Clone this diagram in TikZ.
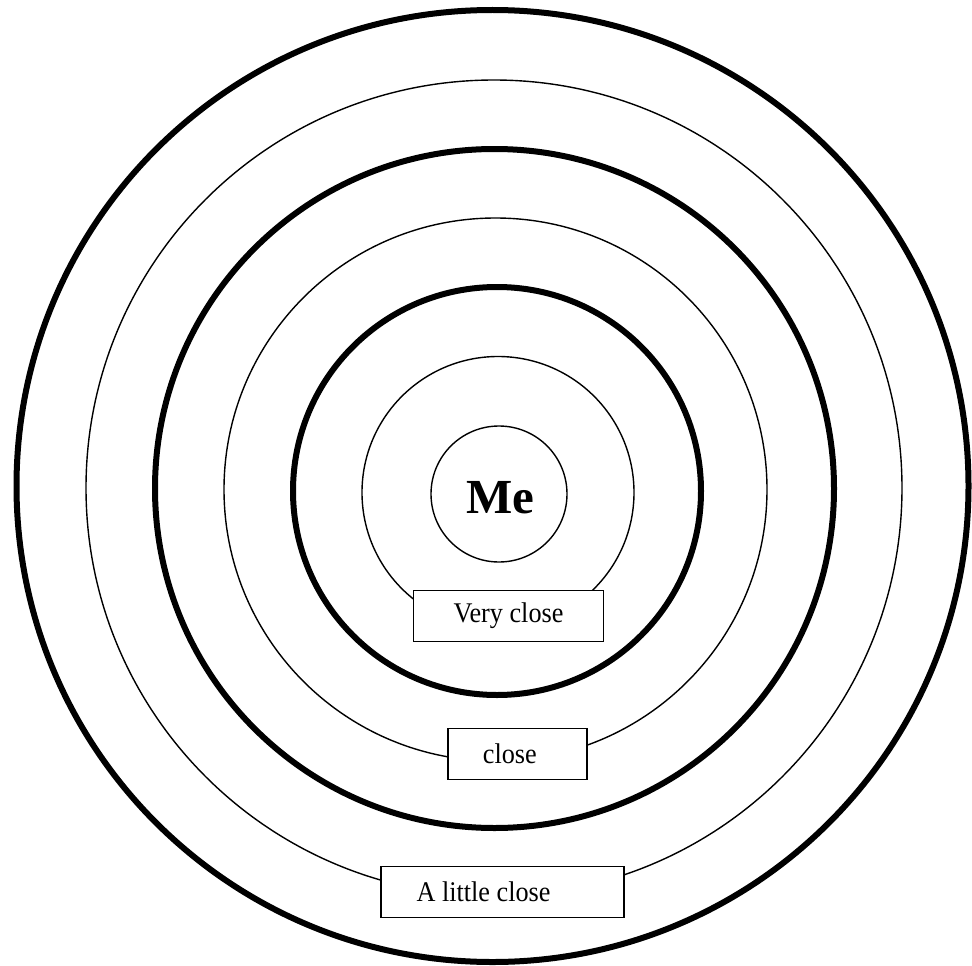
\documentclass[tikz,border=0pt]{standalone}
\usepackage{fontspec}
\setmainfont{Liberation Serif}
\begin{document}
\begin{tikzpicture}[x=1pt,y=-1pt,
  thinring/.style={circle, draw, line width=1.4pt, inner sep=0pt, outer sep=0pt},
  thickring/.style={circle, draw, line width=6pt, inner sep=0pt, outer sep=0pt},
  labelbox/.style={draw, fill=white, line width=1.4pt, inner sep=0pt, outer sep=0pt, minimum height=51pt,
    font=\fontsize{28.5}{30}\selectfont},
  metext/.style={font=\fontsize{49}{50}\selectfont\bfseries, inner sep=0pt}
]
\useasboundingbox (0,0) rectangle (972,966);
\node[thickring, minimum size=952pt] (r7) at (492.5,486) {};
\node[thinring, minimum size=816pt] (r6) at (494,488) {};
\node[thickring, minimum size=679pt] (r5) at (494.5,488.5) {};
\node[thinring, minimum size=543pt] (r4) at (495.5,489.5) {};
\node[thickring, minimum size=408pt] (r3) at (497,491) {};
\node[thinring, minimum size=272pt] (r2) at (498,492.5) {};
\node[thinring, minimum size=136pt] (r1) at (499,494) {};
\node[metext] (me) at ([xshift=1.5pt, yshift=-3.4pt]r1.center) {Me};
\node[labelbox, minimum width=190pt] (veryclose) at (508.5,616) {\scalebox{0.92}[1]{Very close}};
\node[labelbox, minimum width=139pt] (close) at (517.5,754) {\scalebox{0.92}[1]{close}\kern15.3pt};
\node[labelbox, minimum width=243pt] (littleclose) at (502.5,892) {\scalebox{0.92}[1]{A little close}\kern38pt};
\end{tikzpicture}
\end{document}
